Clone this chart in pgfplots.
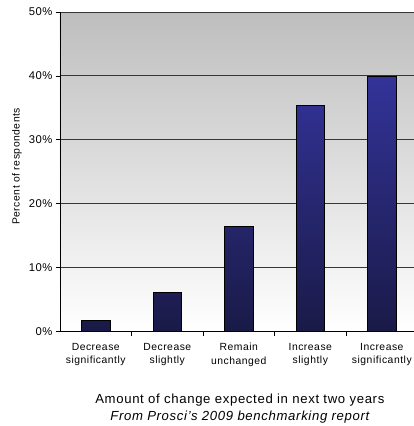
\documentclass[border=0pt]{standalone}
\usepackage{pgfplots}
\pgfplotsset{compat=1.18}
\usepackage{fontspec}
\setmainfont[LetterSpace=5]{Liberation Sans}

\definecolor{barTop}{RGB}{51,51,153}
\definecolor{barMid}{RGB}{45,45,135}
\definecolor{barBot}{RGB}{26,26,72}
\definecolor{bgTop}{RGB}{190,190,190}
\definecolor{gridc}{RGB}{55,55,55}

\begin{document}
\begin{tikzpicture}
\path[use as bounding box] (-60bp,-94.3bp) rectangle (354bp,331.7bp);
\begin{axis}[
  at={(0,0)}, anchor=south west,
  scale only axis,
  width=354bp, height=319.7bp,
  xmin=0.5, xmax=5.45,
  ymin=0, ymax=50,
  axis lines*=left,
  axis line style={black, line width=0.8bp},
  axis background/.style={top color=bgTop, bottom color=white},
  ytick={0,10,20,30,40,50},
  yticklabel={\pgfmathprintnumber{\tick}\%},
  ymajorgrids,
  grid style={gridc, line width=0.9bp},
  xtick={1,2,3,4,5},
  xticklabels={Decrease\\significantly, Decrease\\slightly, Remain\\unchanged, Increase\\slightly, Increase\\significantly},
  x tick label style={align=center, font=\fontsize{10.4}{13.4}\selectfont, yshift=-4bp},
  y tick label style={font=\fontsize{11.3}{12}\selectfont},
  /pgf/number format/assume math mode=true,
  minor xtick={1.5,2.5,3.5,4.5},
  major x tick style={draw=none},
  minor x tick style={black, line width=0.8bp},
  tick align=outside,
  major tick length=4bp,
  minor tick length=4bp,
  y tick style={black, line width=0.8bp},
  ybar, bar width=28.5bp,
  clip=false,
]
\addplot[draw=black, line width=0.8bp, top color=barTop, middle color=barMid, bottom color=barBot]
  coordinates {(1,1.7) (2,6.1) (3,16.5) (4,35.4) (5,40.0)};
\node[rotate=90, anchor=center, font=\fontsize{10.4}{12}\selectfont] at ([xshift=-43bp, yshift=5.5bp]rel axis cs:0,0.5) {Percent of respondents};
\node[anchor=base, font=\fontsize{13.2}{15}\selectfont] at ([yshift=-71.3bp]rel axis cs:0.508,0) {Amount of change expected in next two years};
\node[anchor=base, font=\fontsize{13.2}{15}\selectfont\itshape] at ([yshift=-89bp]rel axis cs:0.508,0) {From Prosci’s 2009 benchmarking report};
\end{axis}
\end{tikzpicture}
\end{document}
